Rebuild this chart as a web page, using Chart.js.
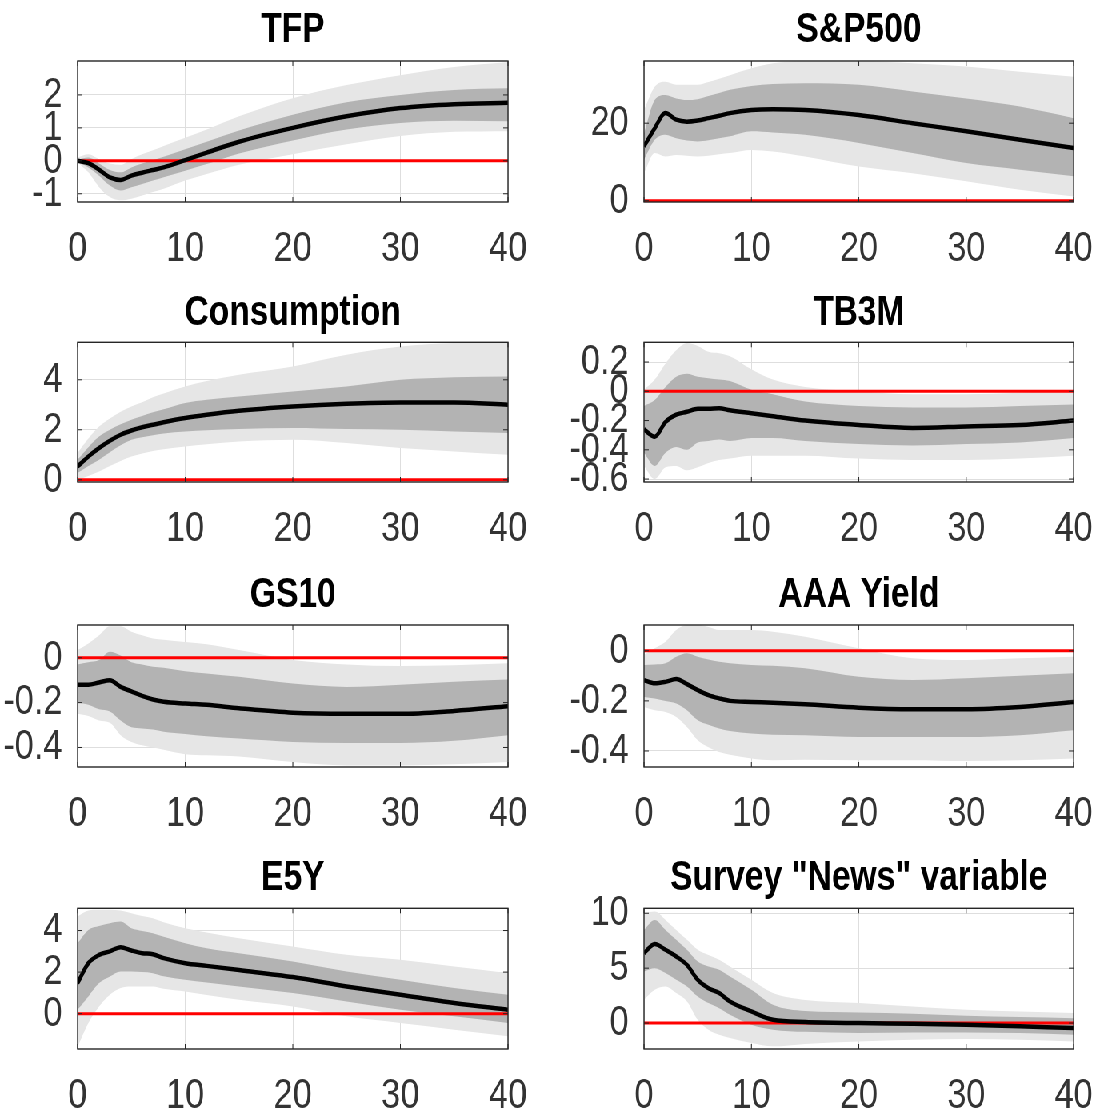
<!DOCTYPE html>
<html>
<head>
<meta charset="utf-8">
<script src="https://cdn.jsdelivr.net/npm/chart.js@4.4.1/dist/chart.umd.min.js"></script>
<style>
  html, body { margin: 0; padding: 0; background: #fff; overflow: hidden; }
  /* la figura original está comprimida en horizontal */
  #lienzo { position: relative; width: 1374px; height: 1113px; transform: scaleX(0.8); transform-origin: 0 0; }
  #lienzo canvas { position: absolute; }
</style>
</head>
<body>
<div id="lienzo"></div>
<script>
// Horizontes (trimestres) y ticks del eje x
const horizontes = [0, 1, 2, 3, 4, 5, 6, 7, 8, 10, 12, 15, 20, 25, 30, 35, 40];
const ticksX = [0, 10, 20, 30, 40];

// TFP
const tfpMediana = [0, -0.07, -0.27, -0.5, -0.58, -0.45, -0.36, -0.28, -0.2, 0.02, 0.25, 0.58, 1.0, 1.35, 1.6, 1.72, 1.76];
const tfpInternoAlto = [0.03, 0.1, -0.08, -0.28, -0.35, -0.2, -0.08, 0.02, 0.12, 0.35, 0.58, 0.92, 1.4, 1.78, 2.0, 2.15, 2.2];
const tfpInternoBajo = [-0.03, -0.2, -0.45, -0.75, -0.9, -0.8, -0.7, -0.6, -0.5, -0.3, -0.1, 0.22, 0.62, 0.95, 1.15, 1.22, 1.2];
const tfpExternoAlto = [0.1, 0.2, 0.05, -0.08, -0.12, 0.05, 0.2, 0.32, 0.45, 0.7, 0.95, 1.35, 1.9, 2.3, 2.6, 2.85, 3.0];
const tfpExternoBajo = [-0.05, -0.35, -0.8, -1.1, -1.2, -1.15, -1.05, -0.95, -0.85, -0.6, -0.4, -0.12, 0.2, 0.5, 0.75, 0.88, 0.9];
const tfpTicks = [-1, 0, 1, 2];
const tfpRango = [-1.25, 3.03];

// S&P500
const spMediana = [14, 18.7, 22.6, 20.9, 20.4, 20.7, 21.3, 21.9, 22.6, 23.4, 23.6, 23.4, 22.1, 20.0, 17.9, 15.7, 13.6];
const spInternoAlto = [17.4, 26, 27.3, 26.4, 26.0, 26.2, 27.0, 27.8, 28.6, 29.6, 30.1, 30.3, 29.9, 28.2, 26.4, 24.3, 21.3];
const spInternoBajo = [10.6, 15.7, 17.0, 16.1, 15.5, 15.3, 15.6, 16.1, 16.6, 17.9, 17.6, 17.0, 14.9, 12.3, 9.7, 8.0, 6.3];
const spExternoAlto = [23.4, 29.4, 30.7, 29.9, 29.9, 29.9, 30.6, 31.5, 32.4, 34.2, 35.5, 35.9, 35.9, 35.5, 34.6, 33.3, 32.0];
const spExternoBajo = [7.1, 12.3, 11.4, 11.8, 11.6, 11.4, 11.6, 12.0, 12.3, 13.1, 12.7, 11.4, 8.8, 7.1, 5.0, 2.8, 1.1];
const spTicks = [0, 20];
const spRango = [-0.34, 36.05];

// Consumption
const consMediana = [0.53, 0.93, 1.27, 1.56, 1.8, 1.97, 2.1, 2.2, 2.3, 2.47, 2.6, 2.76, 2.93, 3.04, 3.09, 3.09, 3.0];
const consInternoAlto = [0.8, 1.3, 1.73, 2.0, 2.22, 2.4, 2.55, 2.7, 2.82, 3.07, 3.2, 3.33, 3.53, 3.73, 4.0, 4.1, 4.13];
const consInternoBajo = [0.27, 0.55, 0.8, 1.1, 1.38, 1.6, 1.7, 1.78, 1.85, 1.93, 1.98, 2.03, 2.07, 2.03, 2.0, 1.93, 1.87];
const consExternoAlto = [1.07, 1.65, 2.13, 2.45, 2.72, 2.93, 3.1, 3.3, 3.45, 3.73, 3.95, 4.2, 4.53, 5.0, 5.33, 5.47, 5.5];
const consExternoBajo = [0.0, 0.15, 0.33, 0.55, 0.75, 0.93, 1.05, 1.15, 1.22, 1.33, 1.42, 1.53, 1.6, 1.47, 1.27, 1.13, 1.0];
const consTicks = [0, 2, 4];
const consRango = [-0.09, 5.5];

// TB3M
const tbMediana = [-0.26, -0.31, -0.21, -0.16, -0.14, -0.12, -0.12, -0.115, -0.13, -0.15, -0.17, -0.2, -0.23, -0.25, -0.24, -0.23, -0.2];
const tbInternoAlto = [-0.1, -0.06, 0.03, 0.1, 0.12, 0.1, 0.09, 0.08, 0.07, 0.01, -0.02, -0.07, -0.1, -0.11, -0.11, -0.1, -0.09];
const tbInternoBajo = [-0.42, -0.51, -0.42, -0.38, -0.4, -0.35, -0.34, -0.33, -0.34, -0.32, -0.32, -0.34, -0.36, -0.37, -0.36, -0.35, -0.32];
const tbExternoAlto = [0.01, 0.08, 0.19, 0.28, 0.33, 0.31, 0.27, 0.26, 0.24, 0.15, 0.08, 0.03, 0.0, -0.02, -0.02, -0.01, 0.01];
const tbExternoBajo = [-0.51, -0.6, -0.52, -0.51, -0.54, -0.52, -0.49, -0.47, -0.46, -0.44, -0.44, -0.44, -0.46, -0.47, -0.47, -0.46, -0.44];
const tbTicks = [-0.6, -0.4, -0.2, 0, 0.2];
const tbRango = [-0.62, 0.335];

// GS10
const gsMediana = [-0.12, -0.12, -0.11, -0.1, -0.13, -0.15, -0.17, -0.186, -0.196, -0.204, -0.21, -0.225, -0.245, -0.25, -0.25, -0.237, -0.216];
const gsInternoAlto = [-0.03, -0.02, -0.01, 0.027, 0.01, -0.02, -0.03, -0.04, -0.045, -0.06, -0.07, -0.085, -0.115, -0.13, -0.12, -0.107, -0.097];
const gsInternoBajo = [-0.2, -0.21, -0.23, -0.24, -0.28, -0.31, -0.315, -0.32, -0.33, -0.34, -0.35, -0.36, -0.375, -0.38, -0.38, -0.37, -0.345];
const gsExternoAlto = [0.034, 0.064, 0.1, 0.14, 0.14, 0.116, 0.1, 0.086, 0.08, 0.07, 0.06, 0.034, -0.01, -0.03, -0.037, -0.033, -0.025];
const gsExternoBajo = [-0.25, -0.26, -0.28, -0.29, -0.345, -0.375, -0.39, -0.4, -0.41, -0.43, -0.435, -0.44, -0.465, -0.48, -0.48, -0.475, -0.465];
const gsTicks = [-0.4, -0.2, 0];
const gsRango = [-0.487, 0.146];

// AAA Yield
const aaaMediana = [-0.117, -0.13, -0.124, -0.113, -0.133, -0.157, -0.177, -0.19, -0.2, -0.204, -0.207, -0.213, -0.227, -0.233, -0.233, -0.224, -0.204];
const aaaInternoAlto = [-0.057, -0.055, -0.05, -0.024, -0.01, -0.024, -0.035, -0.044, -0.05, -0.057, -0.06, -0.07, -0.104, -0.117, -0.11, -0.1, -0.09];
const aaaInternoBajo = [-0.184, -0.19, -0.2, -0.21, -0.237, -0.277, -0.295, -0.31, -0.32, -0.33, -0.335, -0.337, -0.344, -0.344, -0.344, -0.337, -0.317];
const aaaExternoAlto = [-0.017, 0.01, 0.036, 0.083, 0.103, 0.103, 0.095, 0.083, 0.083, 0.083, 0.076, 0.056, 0.01, -0.03, -0.037, -0.03, -0.024];
const aaaExternoBajo = [-0.224, -0.237, -0.244, -0.264, -0.304, -0.357, -0.385, -0.404, -0.415, -0.43, -0.437, -0.435, -0.437, -0.437, -0.44, -0.437, -0.43];
const aaaTicks = [-0.4, -0.2, 0];
const aaaRango = [-0.464, 0.103];

// E5Y
const e5yMediana = [1.47, 2.43, 2.83, 3.0, 3.2, 3.04, 2.91, 2.86, 2.67, 2.43, 2.3, 2.1, 1.76, 1.31, 0.91, 0.51, 0.19];
const e5yInternoAlto = [3.39, 4.03, 4.22, 4.35, 4.43, 4.11, 3.98, 3.87, 3.7, 3.39, 3.15, 2.91, 2.51, 2.03, 1.63, 1.23, 0.91];
const e5yInternoBajo = [0.19, 0.83, 1.47, 1.79, 2.03, 2.03, 2.0, 1.95, 1.8, 1.63, 1.5, 1.31, 0.99, 0.59, 0.19, -0.13, -0.45];
const e5yExternoAlto = [4.67, 4.96, 5.0, 5.0, 4.96, 4.83, 4.7, 4.59, 4.4, 4.11, 3.9, 3.63, 3.23, 2.83, 2.59, 2.27, 1.95];
const e5yExternoBajo = [-1.6, -0.45, 0.35, 0.91, 1.23, 1.31, 1.31, 1.31, 1.2, 1.07, 0.9, 0.67, 0.35, -0.13, -0.45, -0.77, -1.09];
const e5yTicks = [0, 2, 4];
const e5yRango = [-1.7, 5.07];

// Survey "News" variable
const newsMediana = [6.36, 7.2, 6.67, 6.06, 5.3, 3.94, 3.18, 2.73, 1.97, 1.06, 0.3, 0.1, 0.0, -0.06, -0.15, -0.3, -0.45];
const newsInternoAlto = [8.48, 9.39, 8.48, 7.58, 6.67, 5.6, 5.15, 4.85, 4.24, 3.03, 1.67, 1.1, 0.97, 0.85, 0.67, 0.55, 0.45];
const newsInternoBajo = [4.7, 5.0, 4.55, 3.94, 3.33, 2.42, 1.82, 1.36, 0.76, -0.15, -0.6, -0.8, -0.9, -0.85, -0.85, -0.9, -1.06];
const newsExternoAlto = [10.0, 10.15, 9.39, 8.48, 7.58, 6.67, 6.2, 5.76, 5.15, 3.94, 2.73, 2.1, 1.82, 1.52, 1.21, 1.06, 0.91];
const newsExternoBajo = [2.12, 3.03, 3.33, 2.73, 1.97, 0.3, -0.6, -1.06, -1.36, -1.82, -2.12, -1.9, -1.67, -1.52, -1.45, -1.52, -1.67];
const newsTicks = [0, 5, 10];
const newsRango = [-2.36, 10.45];

const paneles = [
  { titulo: 'TFP', med: tfpMediana, inA: tfpInternoAlto, inB: tfpInternoBajo, exA: tfpExternoAlto, exB: tfpExternoBajo, ticks: tfpTicks, rango: tfpRango },
  { titulo: 'S&P500', med: spMediana, inA: spInternoAlto, inB: spInternoBajo, exA: spExternoAlto, exB: spExternoBajo, ticks: spTicks, rango: spRango },
  { titulo: 'Consumption', med: consMediana, inA: consInternoAlto, inB: consInternoBajo, exA: consExternoAlto, exB: consExternoBajo, ticks: consTicks, rango: consRango },
  { titulo: 'TB3M', med: tbMediana, inA: tbInternoAlto, inB: tbInternoBajo, exA: tbExternoAlto, exB: tbExternoBajo, ticks: tbTicks, rango: tbRango },
  { titulo: 'GS10', med: gsMediana, inA: gsInternoAlto, inB: gsInternoBajo, exA: gsExternoAlto, exB: gsExternoBajo, ticks: gsTicks, rango: gsRango },
  { titulo: 'AAA Yield', med: aaaMediana, inA: aaaInternoAlto, inB: aaaInternoBajo, exA: aaaExternoAlto, exB: aaaExternoBajo, ticks: aaaTicks, rango: aaaRango },
  { titulo: 'E5Y', med: e5yMediana, inA: e5yInternoAlto, inB: e5yInternoBajo, exA: e5yExternoAlto, exB: e5yExternoBajo, ticks: e5yTicks, rango: e5yRango },
  { titulo: 'Survey "News" variable', med: newsMediana, inA: newsInternoAlto, inB: newsInternoBajo, exA: newsExternoAlto, exB: newsExternoBajo, ticks: newsTicks, rango: newsRango }
];

(function(){
  const FUENTE = "'Liberation Sans', Arial, Helvetica, sans-serif";
  // geometría de cada fila (coordenadas dentro del canvas)
  const filas = [
    { top: 0,   alto: 280, titulo: [5, 5.6],   fondo: 202 },
    { top: 280, alto: 280, titulo: [7.8, 4.1], fondo: 202 },
    { top: 560, alto: 280, titulo: [9.8, 4.8], fondo: 207 },
    { top: 840, alto: 273, titulo: [13, 4.9], fondo: 209 }
  ];
  const columnas = [
    { left: 0,   ancho: 687, ejeY: 97,  derecha: 52 },
    { left: 687, ancho: 700, ejeY: 118, derecha: 0 }
  ];

  const serie = (valores) => horizontes.map((h, i) => ({ x: h, y: valores[i] }));
  const fijarTicks = (lista) => (escala) => { escala.ticks = lista.map(v => ({ value: v })); };

  // caja del eje y marcas interiores, estilo MATLAB
  const marco = {
    id: 'marco',
    afterDatasetsDraw(chart) {
      const { ctx, chartArea: a, scales: { x, y } } = chart;
      ctx.save();
      ctx.strokeStyle = '#262626';
      ctx.lineWidth = 1.4;
      ctx.strokeRect(a.left, a.top, a.right - a.left, a.bottom - a.top);
      ctx.lineWidth = 1;
      ctx.beginPath();
      x.ticks.forEach(t => {
        const px = x.getPixelForValue(t.value);
        ctx.moveTo(px, a.bottom); ctx.lineTo(px, a.bottom - 5);
        ctx.moveTo(px, a.top); ctx.lineTo(px, a.top + 5);
      });
      y.ticks.forEach(t => {
        const py = y.getPixelForValue(t.value);
        ctx.moveTo(a.left, py); ctx.lineTo(a.left + 6, py);
        ctx.moveTo(a.right, py); ctx.lineTo(a.right - 6, py);
      });
      ctx.stroke();
      ctx.restore();
    }
  };

  const crearPanel = (panel, indice) => {
    const fila = filas[Math.floor(indice / 2)];
    const col = columnas[indice % 2];
    const canvas = document.createElement('canvas');
    canvas.width = col.ancho;
    canvas.height = fila.alto;
    canvas.style.left = col.left + 'px';
    canvas.style.top = fila.top + 'px';
    canvas.style.width = col.ancho + 'px';
    canvas.style.height = fila.alto + 'px';
    document.getElementById('lienzo').appendChild(canvas);

    const banda = { pointRadius: 0, borderColor: 'transparent', borderWidth: 1, cubicInterpolationMode: 'monotone' };
    const extremos = [horizontes[0], horizontes[horizontes.length - 1]];

    return new Chart(canvas.getContext('2d'), {
      type: 'line',
      data: {
        datasets: [
          { data: serie(panel.med), borderColor: '#000', borderWidth: 4.5, pointRadius: 0, fill: false, cubicInterpolationMode: 'monotone' },
          { data: extremos.map(h => ({ x: h, y: 0 })), borderColor: '#ff0000', borderWidth: 3, pointRadius: 0, fill: false },
          Object.assign({ data: serie(panel.inA), backgroundColor: 'rgb(179,179,179)', fill: '+1' }, banda),
          Object.assign({ data: serie(panel.inB), fill: false }, banda),
          Object.assign({ data: serie(panel.exA), backgroundColor: 'rgb(230,230,230)', fill: '+1' }, banda),
          Object.assign({ data: serie(panel.exB), fill: false }, banda)
        ]
      },
      options: {
        responsive: false,
        devicePixelRatio: 1,
        animation: false,
        events: [],
        layout: { padding: { left: 0, right: col.derecha, top: 0, bottom: 0 } },
        plugins: {
          legend: { display: false },
          tooltip: { enabled: false },
          title: {
            display: true,
            fullSize: false,
            text: panel.titulo,
            color: '#000',
            font: { family: FUENTE, size: 42, weight: 'bold', lineHeight: 1.2 },
            padding: { top: fila.titulo[0], bottom: fila.titulo[1] }
          }
        },
        scales: {
          x: {
            type: 'linear',
            min: extremos[0],
            max: extremos[1],
            afterBuildTicks: fijarTicks(ticksX),
            afterFit: (escala) => { escala.height = fila.alto - fila.fondo; },
            border: { display: false },
            grid: { color: '#dedede', lineWidth: 1, drawTicks: false },
            ticks: { font: { family: FUENTE, size: 43 }, color: '#333', padding: 21, maxRotation: 0, autoSkip: false, callback: v => String(v) }
          },
          y: {
            type: 'linear',
            min: panel.rango[0],
            max: panel.rango[1],
            afterBuildTicks: fijarTicks(panel.ticks),
            afterFit: (escala) => { escala.width = col.ejeY; },
            border: { display: false },
            grid: { color: '#dedede', lineWidth: 1, drawTicks: false },
            ticks: { font: { family: FUENTE, size: 43 }, color: '#333', padding: 19, autoSkip: false, callback: v => String(v) }
          }
        }
      },
      plugins: [marco]
    });
  };

  const inicializar = () => paneles.forEach(crearPanel);

  if (document.readyState === 'loading') {
    document.addEventListener('DOMContentLoaded', inicializar);
  } else {
    inicializar();
  }
})();
</script>
</body>
</html>
